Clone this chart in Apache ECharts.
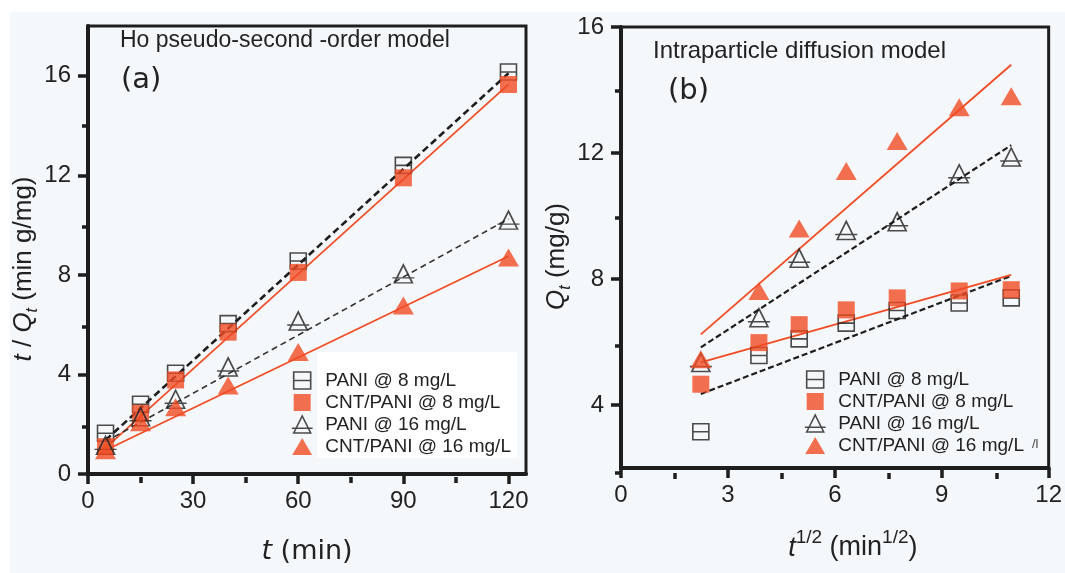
<!DOCTYPE html>
<html>
<head>
<meta charset="utf-8">
<script src="https://cdn.jsdelivr.net/npm/echarts@6/dist/echarts.min.js"></script>
<style>html,body{margin:0;padding:0;background:#fff;}#c{width:1065px;height:573px;}</style>
</head>
<body>
<div id="c"></div>
<script>
// ---------- data ----------
var seriesNames = ['PANI @ 8 mg/L', 'CNT/PANI @ 8 mg/L', 'PANI @ 16 mg/L', 'CNT/PANI @ 16 mg/L'];
// panel (a): t/Qt vs t
var tA = [5, 15, 25, 40, 60, 90, 120];
var a_PANI8 = [1.64, 2.8, 4.05, 6.04, 8.56, 12.4, 16.15];
var a_CNT8 = [1.1, 2.44, 3.78, 5.7, 8.1, 11.9, 15.65];
var a_PANI16 = [1.15, 2.3, 3.0, 4.3, 6.15, 8.04, 10.2];
var a_CNT16 = [0.95, 2.08, 2.68, 3.56, 4.9, 6.77, 8.7];
// fit lines (a): value at first and last t
var fitA_x = [5, 120];
var fitA_PANI8 = [1.36, 16.1];
var fitA_CNT8 = [1.05, 15.65];
var fitA_PANI16 = [1.3, 10.25];
var fitA_CNT16 = [0.95, 8.75];
// panel (b): Qt vs t^1/2
var tB = [2.24, 3.87, 5.0, 6.32, 7.75, 9.49, 10.95];
var b_PANI8 = [3.15, 5.57, 6.1, 6.6, 7.0, 7.24, 7.4];
var b_CNT8 = [4.66, 5.98, 6.55, 7.02, 7.4, 7.62, 7.66];
var b_PANI16 = [5.35, 6.77, 8.66, 9.54, 9.82, 11.34, 11.87];
var b_CNT16 = [5.45, 7.62, 9.6, 11.43, 12.38, 13.45, 13.8];
var fitB_x = [2.24, 10.95];
var fitB_PANI8 = [4.35, 8.1];
var fitB_CNT8 = [5.35, 8.13];
var fitB_PANI16 = [5.83, 12.25];
var fitB_CNT16 = [6.24, 14.8];
// ticks
var aXMajor = [0, 30, 60, 90, 120], aXMinor = [15, 45, 75, 105];
var aYMajor = [0, 4, 8, 12, 16], aYMinor = [2, 6, 10, 14];
var bXMajor = [0, 3, 6, 9, 12], bXMinor = [1.5, 4.5, 7.5, 10.5];
var bYMajor = [4, 8, 12, 16], bYMinor = [2, 6, 10, 14];

// ---------- styles ----------
var ORANGE = '#f04b23';
var DARK = '#1e1e1e';
var SQ_OPEN = 'path://M0,0 L16,0 L16,16 L0,16 Z M0,8 L16,8';
var SQ_FILL = 'path://M0,0 L16,0 L16,16 L0,16 Z';
var TRI_OPEN = 'path://M2,18 L11,0 L20,18 Z M0,13 L22,13';
var TRI_FILL = 'path://M0,18 L10.5,0 L21,18 Z';
var markerStyles = [
  {symbol: SQ_OPEN, symbolSize: [16, 16], itemStyle: {color: 'rgba(0,0,0,0)', borderColor: DARK, borderWidth: 1.6}},
  {symbol: SQ_FILL, symbolSize: [17, 17], itemStyle: {color: ORANGE}},
  {symbol: TRI_OPEN, symbolSize: [22, 18], itemStyle: {color: 'rgba(0,0,0,0)', borderColor: DARK, borderWidth: 1.6}},
  {symbol: TRI_FILL, symbolSize: [21, 18], itemStyle: {color: ORANGE}}
];
var fitStylesA = [
  {color: DARK, width: 2.6, type: [7, 4]},
  {color: ORANGE, width: 1.7, type: 'solid'},
  {color: '#333', width: 1.6, type: [6, 4]},
  {color: ORANGE, width: 1.7, type: 'solid'}
];
var fitStylesB = [
  {color: DARK, width: 2.2, type: [6, 3]},
  {color: ORANGE, width: 1.8, type: 'solid'},
  {color: DARK, width: 2.2, type: [6, 3]},
  {color: ORANGE, width: 1.8, type: 'solid'}
];

function zip(xs, ys) { return xs.map(function (x, i) { return [x, ys[i]]; }); }

var gridA = {left: 88, top: 26, width: 438, height: 451};
var gridB = {left: 621, top: 27, width: 429, height: 446};
function g(base, show) {
  return Object.assign({show: show, borderColor: DARK, borderWidth: show ? 3 : 0, backgroundColor: 'transparent'}, base);
}
var FONT = 'Liberation Sans';
var tickLabel = {fontSize: 24, fontFamily: FONT, color: '#222'};

function mainAxis(dim, min, max, major, extra) {
  return Object.assign({
    type: 'value', min: min, max: max, gridIndex: 0,
    axisLine: {show: true, onZero: false, lineStyle: {color: DARK, width: 4}},
    axisTick: {show: true, inside: false, length: 10, customValues: major, lineStyle: {color: DARK, width: 3.5}},
    axisLabel: Object.assign({customValues: major, margin: dim === 'x' ? 15 : 17}, tickLabel),
    splitLine: {show: false}
  }, extra);
}
function minorAxis(min, max, minor, gi) {
  return {
    type: 'value', min: min, max: max, gridIndex: gi,
    axisLine: {show: false},
    axisTick: {show: true, inside: false, length: 6, customValues: minor, lineStyle: {color: DARK, width: 3.5}},
    axisLabel: {show: false}, splitLine: {show: false}
  };
}

var series = [];
var dataA = [a_PANI8, a_CNT8, a_PANI16, a_CNT16];
var fitA = [fitA_PANI8, fitA_CNT8, fitA_PANI16, fitA_CNT16];
var dataB = [b_PANI8, b_CNT8, b_PANI16, b_CNT16];
var fitB = [fitB_PANI8, fitB_CNT8, fitB_PANI16, fitB_CNT16];
for (var i = 0; i < 4; i++) {
  series.push({type: 'line', name: 'fitA' + i, xAxisIndex: 0, yAxisIndex: 0, data: zip(fitA_x, fitA[i]),
    showSymbol: false, symbol: 'none', silent: true, lineStyle: fitStylesA[i], z: 2});
  series.push({type: 'line', name: 'fitB' + i, xAxisIndex: 2, yAxisIndex: 2, data: zip(fitB_x, fitB[i]),
    showSymbol: false, symbol: 'none', silent: true, lineStyle: fitStylesB[i], z: 2});
}
for (var j = 0; j < 4; j++) {
  series.push(Object.assign({type: 'scatter', name: seriesNames[j], xAxisIndex: 0, yAxisIndex: 0,
    data: zip(tA, dataA[j]), z: 3 + j}, markerStyles[j]));
  series.push(Object.assign({type: 'scatter', name: seriesNames[j], xAxisIndex: 2, yAxisIndex: 2,
    data: zip(tB, dataB[j]), z: 3 + j}, markerStyles[j]));
}

function legend(left, top) {
  return {
    data: seriesNames.map(function (n, k) {
      return {name: n, icon: markerStyles[k].symbol, itemStyle: markerStyles[k].itemStyle};
    }),
    orient: 'vertical', left: left, top: top, padding: 0, symbolKeepAspect: true,
    itemWidth: 36, itemHeight: 17, itemGap: 3, selectedMode: false,
    textStyle: {fontSize: 19, fontFamily: FONT, color: '#222', lineHeight: 18}
  };
}

var option = {
  animation: false,
  backgroundColor: '#f5f8fb',
  grid: [g(gridA, true), g(gridA, false), g(gridB, true), g(gridB, false)],
  xAxis: [
    mainAxis('x', 0, 125, aXMajor, {gridIndex: 0,
      name: '{i|t} (min)', nameLocation: 'middle', nameGap: 62,
      nameTextStyle: {fontSize: 27, fontFamily: 'DejaVu Sans', color: '#222', lineHeight: 32,
        rich: {i: {fontSize: 27, fontFamily: 'DejaVu Sans', fontStyle: 'italic', color: '#222', lineHeight: 32}}}}),
    minorAxis(0, 125, aXMinor, 1),
    mainAxis('x', 0, 12, bXMajor, {gridIndex: 2,
      name: '{i|t}{sup|1/2} (min{sup|1/2})', nameLocation: 'middle', nameGap: 60,
      nameTextStyle: {fontSize: 27, fontFamily: FONT, color: '#222', lineHeight: 28, padding: [0, 0, 0, 36],
        rich: {i: {fontSize: 27, fontFamily: FONT, fontStyle: 'italic', color: '#222', lineHeight: 28},
               sup: {fontSize: 19, fontFamily: FONT, color: '#222', verticalAlign: 'top', lineHeight: 40}}}}),
    minorAxis(0, 12, bXMinor, 3)
  ],
  yAxis: [
    mainAxis('y', 0, 18, aYMajor, {gridIndex: 0,
      name: '{i|t} / {i|Q}{sub|t} (min g/mg)', nameLocation: 'middle', nameRotate: 90, nameGap: 46,
      nameTextStyle: {fontSize: 26, fontFamily: FONT, color: '#222', lineHeight: 28, padding: [0, 38, 0, 0],
        rich: {i: {fontSize: 26, fontFamily: FONT, fontStyle: 'italic', color: '#222', lineHeight: 28},
               sub: {fontSize: 16, fontFamily: FONT, fontStyle: 'italic', color: '#222', verticalAlign: 'bottom', lineHeight: 34}}}}),
    minorAxis(0, 18, aYMinor, 1),
    mainAxis('y', 2, 16, bYMajor, {gridIndex: 2,
      name: '{i|Q}{sub|t} (mg/g)', nameLocation: 'middle', nameRotate: 90, nameGap: 45,
      nameTextStyle: {fontSize: 26, fontFamily: FONT, color: '#222', lineHeight: 28, padding: [0, 18, 0, 0],
        rich: {i: {fontSize: 26, fontFamily: FONT, fontStyle: 'italic', color: '#222', lineHeight: 28},
               sub: {fontSize: 16, fontFamily: FONT, fontStyle: 'italic', color: '#222', verticalAlign: 'bottom', lineHeight: 34}}}}),
    minorAxis(2, 16, bYMinor, 3)
  ],
  legend: [legend(291, 371), legend(804, 370)],
  graphic: [
    {type: 'rect', left: 0, top: 0, shape: {width: 1065, height: 12}, style: {fill: '#fff'}, z: -10, silent: true},
    {type: 'rect', left: 0, top: 0, shape: {width: 10, height: 573}, style: {fill: '#fff'}, z: -10, silent: true},
    {type: 'rect', left: 317, top: 352, shape: {width: 200, height: 106}, style: {fill: '#ffffff'}, z: -5, silent: true},
    {type: 'text', x: 120, y: 41, style: {text: 'Ho pseudo-second -order model', font: '23px "Liberation Sans"', fill: '#222', verticalAlign: 'middle'}},
    {type: 'text', x: 121, y: 80, style: {text: '(a)', font: '29px "DejaVu Sans"', fill: '#222', verticalAlign: 'middle'}},
    {type: 'text', x: 653, y: 51, style: {text: 'Intraparticle diffusion model', font: '24px "Liberation Sans"', fill: '#222', verticalAlign: 'middle'}},
    {type: 'text', x: 668, y: 91, style: {text: '(b)', font: '29px "DejaVu Sans"', fill: '#222', verticalAlign: 'middle'}},
    {type: 'text', x: 1032, y: 444, style: {text: '/l', font: '13px "Liberation Sans"', fill: '#444', verticalAlign: 'middle'}}
  ],
  series: series
};
var chart = echarts.init(document.getElementById('c'), null, {renderer: 'canvas'});
chart.setOption(option);
</script>
</body>
</html>
